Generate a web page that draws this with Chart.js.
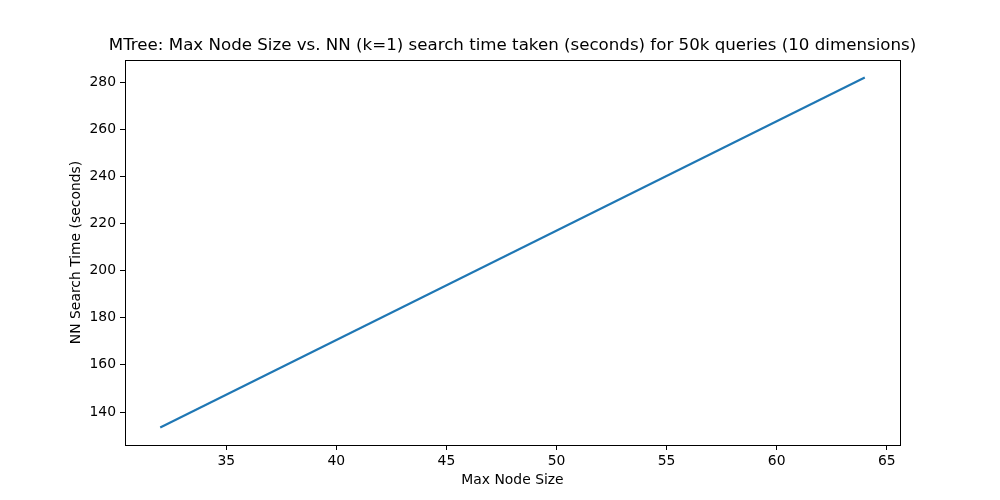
<!DOCTYPE html>
<html>
<head>
<meta charset="utf-8">
<script src="https://cdn.jsdelivr.net/npm/chart.js@4.4.1/dist/chart.umd.min.js"></script>
<style>
html,body{margin:0;padding:0;background:#fff;}
#wrap{width:1000px;height:500px;position:relative;}
</style>
</head>
<body>
<div id="wrap"><canvas id="c" width="1000" height="500"></canvas></div>
<script>
const titleText = "MTree: Max Node Size vs. NN (k=1) search time taken (seconds) for 50k queries (10 dimensions)";
const xLabel = "Max Node Size";
const yLabel = "NN Search Time (seconds)";
const maxNodeSize = [32, 64];
const searchTime = [133.4, 282.0];
const xTicks = [35, 40, 45, 50, 55, 60, 65];
const yTicks = [140, 160, 180, 200, 220, 240, 260, 280];

const FONT = "'DejaVu Sans', sans-serif";
const tickFont = {family: "'DejaVu Sans', sans-serif", size: 13.9};

const textPlugin = {
  id: 'textPlugin',
  afterDraw(chart) {
    const ctx = chart.ctx;
    const a = chart.chartArea;
    ctx.save();
    ctx.strokeStyle = '#000';
    ctx.lineWidth = 1;
    ctx.strokeRect(Math.round(a.left) + 0.5, Math.round(a.top) + 0.5, Math.round(a.right - a.left), Math.round(a.bottom - a.top));
    ctx.fillStyle = '#000';
    ctx.textAlign = 'center';
    ctx.textBaseline = 'middle';
    const cx = (a.left + a.right) / 2;
    ctx.font = "16.67px " + FONT;
    ctx.fillText(titleText, cx, 46);
    ctx.font = "13.9px " + FONT;
    ctx.fillText(xLabel, cx, 480);
    ctx.translate(76, (a.top + a.bottom) / 2);
    ctx.rotate(-Math.PI / 2);
    ctx.fillText(yLabel, 0, 0);
    ctx.restore();
  }
};

new Chart(document.getElementById('c'), {
  type: 'line',
  data: {
    datasets: [{
      data: maxNodeSize.map((x, i) => ({x: x, y: searchTime[i]})),
      borderColor: '#1f77b4',
      borderWidth: 2.1,
      pointRadius: 0,
      tension: 0,
      fill: false
    }]
  },
  options: {
    responsive: false,
    animation: false,
    devicePixelRatio: 1,
    layout: {padding: {left: 0, right: 100, top: 60, bottom: 0}},
    plugins: {legend: {display: false}, title: {display: false}, tooltip: {enabled: false}},
    scales: {
      x: {
        type: 'linear',
        min: 30.4,
        max: 65.6,
        afterBuildTicks: s => { s.ticks = xTicks.map(v => ({value: v})); },
        afterFit: s => { s.height = 55; },
        grid: {display: true, drawOnChartArea: false, drawTicks: true, tickLength: 5, color: '#000', lineWidth: 1},
        border: {display: true, color: '#000', width: 1},
        ticks: {color: '#000', font: tickFont, padding: 3, maxRotation: 0, autoSkip: false}
      },
      y: {
        type: 'linear',
        min: 126.0,
        max: 289.4,
        afterBuildTicks: s => { s.ticks = yTicks.map(v => ({value: v})); },
        afterFit: s => { s.width = 125; },
        grid: {display: true, drawOnChartArea: false, drawTicks: true, tickLength: 5, color: '#000', lineWidth: 1},
        border: {display: true, color: '#000', width: 1},
        ticks: {color: '#000', font: tickFont, padding: 4, autoSkip: false}
      }
    }
  },
  plugins: [textPlugin]
});
</script>
</body>
</html>
